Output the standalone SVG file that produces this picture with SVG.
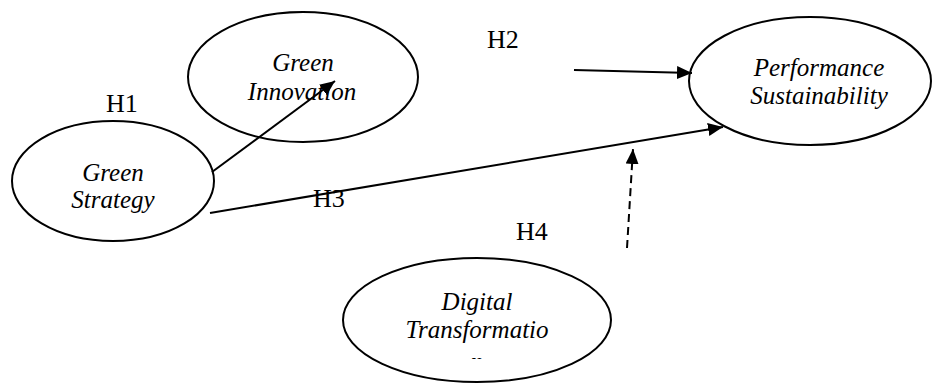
<svg xmlns="http://www.w3.org/2000/svg" width="936" height="383" viewBox="0 0 936 383">
<style>
.node ellipse{fill:#fff;stroke:#000;stroke-width:2}
.lbl{font-family:"Liberation Serif","Times New Roman",serif;font-style:italic;font-size:25px;fill:#000;text-anchor:middle}
.h{font-family:"Liberation Serif","Times New Roman",serif;font-size:26px;fill:#000}
.edge{stroke:#000;stroke-width:2;fill:none}
.dash{stroke-dasharray:8 5}
</style>
<defs>
<marker id="arr" markerUnits="userSpaceOnUse" markerWidth="16" markerHeight="14" refX="15" refY="6.5" orient="auto" viewBox="0 0 16 14">
<path d="M0,0 L15,6.5 L0,13 z" fill="#000"/>
</marker>
<clipPath id="clipDT"><rect x="340" y="250" width="280" height="109"/></clipPath>
</defs>
<rect width="936" height="383" fill="#fff"/>
<g id="green-innovation" class="node">
<ellipse cx="303" cy="77" rx="115" ry="65"/>
<text class="lbl" x="303" y="71">Green</text>
<text class="lbl" x="302" y="100">Innovation</text>
</g>
<g id="green-strategy" class="node">
<ellipse cx="113" cy="181" rx="101" ry="60"/>
<text class="lbl" x="113" y="181">Green</text>
<text class="lbl" x="113" y="208">Strategy</text>
</g>
<g id="performance-sustainability" class="node">
<ellipse cx="810" cy="81" rx="121" ry="64"/>
<text class="lbl" x="819" y="76">Performance</text>
<text class="lbl" x="819" y="104">Sustainability</text>
</g>
<g id="digital-transformation" class="node">
<ellipse cx="477" cy="320" rx="134" ry="62"/>
<text class="lbl" x="477" y="310">Digital</text>
<text class="lbl" x="477" y="338">Transformatio</text>
<text class="lbl" x="477" y="370" clip-path="url(#clipDT)">n</text>
</g>
<g id="connectors">
<line class="edge" x1="212" y1="172" x2="335" y2="81" marker-end="url(#arr)"/>
<line class="edge" x1="574" y1="70" x2="692" y2="73" marker-end="url(#arr)"/>
<line class="edge" x1="210" y1="213" x2="723" y2="127" marker-end="url(#arr)"/>
<line class="edge dash" x1="627" y1="248" x2="633" y2="149" marker-end="url(#arr)"/>
</g>
<g id="labels">
<text class="h" x="106" y="112">H1</text>
<text class="h" x="487" y="48">H2</text>
<text class="h" x="313" y="207">H3</text>
<text class="h" x="516" y="240">H4</text>
</g>
</svg>
